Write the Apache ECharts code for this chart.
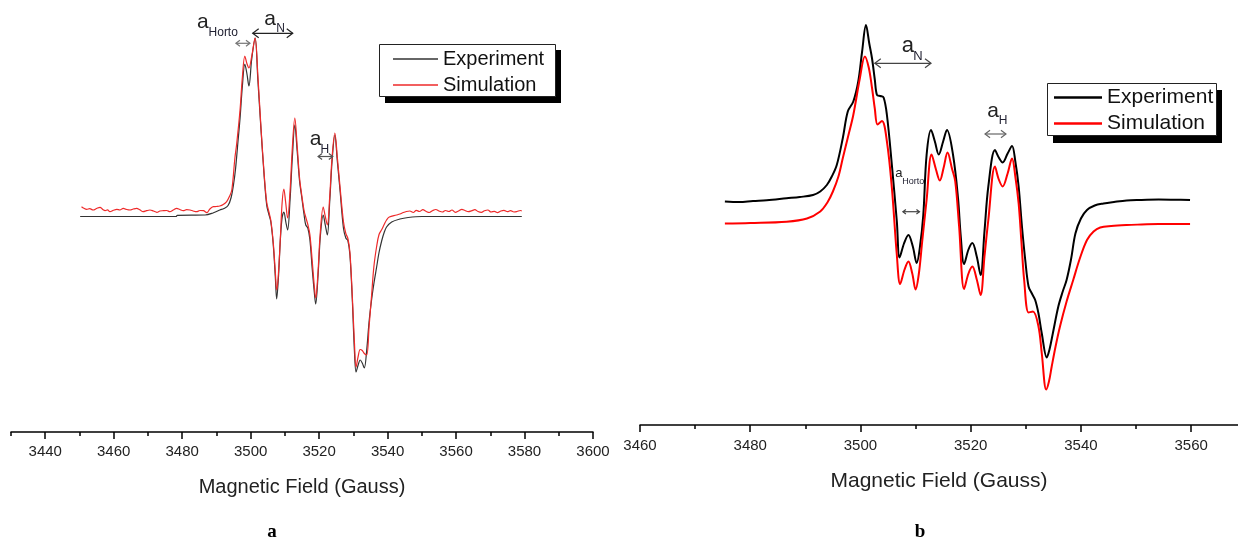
<!DOCTYPE html>
<html>
<head>
<meta charset="utf-8">
<script src="https://cdn.jsdelivr.net/npm/echarts@6/dist/echarts.min.js"></script>
<style>
html, body { margin: 0; padding: 0; background: #fff; }
#main { width: 1238px; height: 541px; }
</style>
</head>
<body>
<div id="main"></div>
<script>
// ---- panel a : experiment (black) ----
var fieldA_exp = [3450.2, 3478.2, 3478.6, 3486.7, 3489.0, 3491.0, 3492.2, 3493.4, 3494.3, 3495.0, 3495.6, 3496.3, 3496.9, 3497.6, 3498.3, 3498.9, 3499.5, 3500.3, 3501.3, 3502.1, 3503.0, 3504.0, 3504.7, 3505.3, 3505.9, 3506.6, 3507.2, 3507.6, 3508.1, 3508.7, 3509.2, 3509.7, 3510.3, 3510.8, 3511.5, 3512.2, 3512.9, 3513.6, 3514.3, 3514.9, 3515.6, 3516.1, 3516.7, 3517.3, 3518.0, 3518.6, 3519.0, 3519.7, 3520.4, 3521.2, 3521.8, 3522.4, 3523.1, 3523.8, 3524.6, 3525.3, 3526.1, 3527.1, 3527.8, 3528.4, 3529.0, 3529.7, 3530.3, 3530.8, 3531.4, 3532.0, 3532.6, 3533.2, 3533.9, 3534.6, 3535.3, 3536.0, 3536.8, 3537.5, 3538.3, 3539.0, 3539.7, 3541.2, 3543.6, 3546.0, 3550.0, 3579.2];
var intA_exp = [0, 0, 1.2, 1.5, 3.5, 6.5, 8, 11, 19, 32, 48, 75, 98, 131, 152.5, 143, 130.5, 157, 178.5, 137, 88, 38, 11, 2.5, -5.5, -28, -60, -82.5, -62, -22, -1, 4.5, -6, -13.5, 16, 60, 91.5, 65, 35, 20, 2, -8.5, -11.5, -23, -53, -76, -87.5, -58, -18, 1.5, -8.5, -18.5, 15, 56, 81.5, 56, 26.5, -11.5, -21.5, -24, -38.5, -83.5, -133.5, -155.5, -148.5, -143.5, -146.5, -151.5, -133.5, -105, -84, -67, -50.5, -36, -24, -16, -10.5, -5.5, -2.5, -1, 0, 0];

// ---- panel a : simulation (red, noisy baseline) ----
var fieldA_sim = [3450.6, 3451.3, 3452.1, 3453.0, 3454.0, 3455.0, 3456.0, 3456.8, 3457.5, 3458.2, 3458.9, 3459.9, 3460.9, 3461.8, 3462.8, 3463.8, 3464.8, 3465.7, 3466.7, 3467.6, 3468.6, 3469.6, 3470.6, 3471.6, 3472.6, 3473.5, 3474.5, 3475.5, 3476.4, 3477.4, 3478.4, 3479.3, 3480.3, 3481.3, 3482.3, 3483.2, 3484.2, 3485.2, 3486.2, 3487.2, 3488.1, 3489.1, 3490.0, 3491.0, 3492.0, 3493.0, 3493.8, 3494.5, 3495.4, 3495.9, 3496.9, 3497.6, 3498.3, 3498.9, 3499.5, 3500.3, 3501.3, 3502.1, 3503.0, 3504.0, 3504.7, 3505.3, 3505.9, 3506.6, 3507.2, 3507.6, 3508.1, 3508.7, 3509.2, 3509.7, 3510.2, 3510.8, 3511.5, 3512.2, 3512.9, 3513.6, 3514.3, 3514.9, 3515.6, 3516.2, 3516.7, 3517.3, 3518.0, 3518.6, 3519.0, 3519.6, 3520.3, 3521.2, 3521.8, 3522.4, 3523.1, 3523.8, 3524.6, 3525.3, 3526.1, 3527.1, 3527.8, 3528.4, 3529.0, 3529.7, 3530.3, 3530.8, 3531.4, 3532.0, 3532.6, 3533.2, 3533.9, 3534.6, 3535.3, 3536.0, 3536.8, 3537.5, 3538.3, 3539.0, 3539.7, 3540.5, 3542.6, 3543.6, 3544.6, 3545.5, 3546.5, 3547.5, 3548.4, 3549.3, 3550.3, 3551.2, 3552.2, 3553.1, 3554.1, 3555.0, 3556.0, 3556.9, 3557.9, 3558.8, 3559.8, 3560.7, 3561.7, 3562.6, 3563.6, 3564.5, 3565.5, 3566.4, 3567.4, 3568.3, 3569.3, 3570.2, 3571.2, 3572.1, 3573.1, 3574.0, 3575.0, 3575.9, 3576.9, 3577.8, 3578.8, 3579.2];
var intA_sim = [9.8, 8.2, 7.2, 7.8, 6.5, 8.0, 9.2, 7.0, 5.8, 6.6, 4.8, 6.2, 7.2, 6.5, 8.2, 7.0, 6.5, 7.5, 8.2, 6.8, 4.8, 5.8, 6.5, 5.5, 4.2, 5.5, 5.8, 6.0, 4.8, 6.5, 8.2, 7.0, 5.8, 6.8, 6.5, 5.5, 4.8, 6.0, 5.8, 3.8, 7.5, 9.8, 10.0, 10.5, 12.0, 14.8, 20, 26.5, 58.5, 72, 106.5, 140, 160.5, 153, 148.5, 160, 178.5, 141.5, 90, 40, 14, 5, -4, -26, -55, -73.5, -58, -20, 14, 27.5, 15, -1.5, 25, 70, 98.5, 70, 38, 22, 6, -2, -8, -18, -45, -70, -81.5, -60, -18, 9.5, 0, -8.5, 20, 60, 83.5, 60, 30, -5, -17, -22, -36, -80, -125, -150.5, -140, -133, -134, -137, -138.5, -110, -80, -50, -30, -18, -13, -8, -3.5, -0.5, 1.5, 2.5, 4, 5, 5.5, 4.0, 6.2, 5.0, 6.8, 5.2, 4.0, 5.8, 7.0, 5.5, 4.5, 6.0, 5.0, 6.5, 4.2, 5.5, 7.2, 6.0, 4.8, 5.6, 6.8, 5.0, 4.2, 5.8, 6.5, 4.5, 5.2, 3.8, 5.5, 6.2, 4.8, 5.8, 4.5, 5.0, 6.0, 5.5];

// ---- panel b : experiment (black) ----
var fieldB_exp = [3475.4, 3478.0, 3480.5, 3483.0, 3486.6, 3489.0, 3491.4, 3492.7, 3493.9, 3494.8, 3495.7, 3496.8, 3497.7, 3498.7, 3499.6, 3500.3, 3501.0, 3501.6, 3502.1, 3502.6, 3503.0, 3503.6, 3504.2, 3504.8, 3505.7, 3506.6, 3507.1, 3507.9, 3508.7, 3509.5, 3510.2, 3510.8, 3511.4, 3512.0, 3512.8, 3513.5, 3514.2, 3515.0, 3515.7, 3516.8, 3517.7, 3518.2, 3518.8, 3519.6, 3520.3, 3521.1, 3521.8, 3522.5, 3523.2, 3524.4, 3525.1, 3525.8, 3526.7, 3527.5, 3528.1, 3528.7, 3529.3, 3529.9, 3530.5, 3531.1, 3531.7, 3532.3, 3532.9, 3533.8, 3534.3, 3534.9, 3535.9, 3536.7, 3537.4, 3538.2, 3539.0, 3540.0, 3541.1, 3542.5, 3544.1, 3546.0, 3548.3, 3551.0, 3554.1, 3557.0, 3559.8];
var intB_exp = [0, -0.5, 0.5, 1.2, 3.2, 4.5, 6.5, 10, 16.5, 25, 36.5, 63.5, 90, 100, 120, 150, 176.5, 158, 143, 122, 106.5, 105.5, 104, 86.5, 36.5, -20, -56, -42, -33.5, -45, -61.5, -45, -13.5, 46.5, 71.5, 60, 47, 60, 71.5, 46.5, 3.5, -35, -62.5, -48, -41.5, -55, -73.5, -30, 15, 51.5, 44, 39, 48, 55.5, 40, 15, -25, -58.5, -85, -92, -98.5, -112, -132, -156, -148, -132, -105, -90, -78.5, -58, -32, -17, -8.5, -4, -2, -0.5, 1, 1.5, 2, 1.8, 1.5];

// ---- panel b : simulation (red) ----
var fieldB_sim = [3475.4, 3480.0, 3486.6, 3490.3, 3492.7, 3494.0, 3495.0, 3496.0, 3496.8, 3497.8, 3498.7, 3499.9, 3500.8, 3501.5, 3502.1, 3502.6, 3503.1, 3503.9, 3504.8, 3505.7, 3506.6, 3507.2, 3508.0, 3508.7, 3509.4, 3510.0, 3510.6, 3511.2, 3512.0, 3512.9, 3513.7, 3514.4, 3515.1, 3515.8, 3516.6, 3517.2, 3517.9, 3518.8, 3519.6, 3520.3, 3521.1, 3521.8, 3522.5, 3523.2, 3524.4, 3525.1, 3525.8, 3526.7, 3527.5, 3528.1, 3528.7, 3529.2, 3529.7, 3530.5, 3531.3, 3532.3, 3532.9, 3533.7, 3534.2, 3534.7, 3535.4, 3536.2, 3537.4, 3538.6, 3539.8, 3541.1, 3542.3, 3543.5, 3545.5, 3548.3, 3551.0, 3554.1, 3557.0, 3559.8];
var intB_sim = [-22, -21.5, -20.2, -17, -10, -1, 10, 25, 43.5, 66, 86.5, 123.5, 145, 134, 113.5, 93, 77, 80.5, 60, 13.5, -53.5, -82.5, -68, -60, -72, -88, -72, -40, 1.5, 47, 32, 21, 34, 49, 33, 20, -25, -87.5, -72, -65, -78, -93.5, -55, -18.5, 35, 22, 15, 28, 43, 25, -2, -40, -78.5, -111, -110, -125, -152, -188, -180, -165, -145, -125, -100, -78.5, -57, -38.5, -30, -26, -24.5, -23.5, -23, -22.5, -22.5, -22.5];

// tick values
var ticksA_major = [3440, 3460, 3480, 3500, 3520, 3540, 3560, 3580, 3600];
var ticksA_minor = [3430, 3450, 3470, 3490, 3510, 3530, 3550, 3570, 3590];
var ticksB_major = [3460, 3480, 3500, 3520, 3540, 3560];
var ticksB_minor = [3470, 3490, 3510, 3530, 3550];

function pairs(xs, ys) {
    return xs.map(function (x, i) { return [x, ys[i]]; });
}

var chart = echarts.init(document.getElementById('main'), null, { renderer: 'canvas' });

var font = 'Liberation Sans, Arial, sans-serif';

function majorAxis(grid, min, max, ticks, margin, gap) {
    return {
        gridIndex: grid, type: 'value', position: 'bottom', min: min, max: max,
        axisLine: { onZero: false, lineStyle: { color: '#000', width: 1.5 } },
        axisTick: { customValues: ticks, length: 7, lineStyle: { color: '#000', width: 1.5 } },
        axisLabel: {
            customValues: ticks, margin: margin, fontSize: 15, color: '#222', fontFamily: font,
            formatter: function (v) { return String(v); }
        },
        splitLine: { show: false },
        name: 'Magnetic Field (Gauss)', nameLocation: 'middle', nameGap: gap,
        nameTextStyle: { fontSize: grid === 0 ? 20 : 21, color: '#222', fontFamily: font }
    };
}
function minorAxis(grid, min, max, ticks) {
    return {
        gridIndex: grid, type: 'value', position: 'bottom', min: min, max: max,
        axisLine: { show: false, onZero: false },
        axisTick: { customValues: ticks, length: 4, lineStyle: { color: '#000', width: 1.5 } },
        axisLabel: { show: false },
        splitLine: { show: false }
    };
}

var option = {
    animation: false,
    textStyle: { fontFamily: font },
    grid: [
        { left: 11, right: 645, top: 0, bottom: 109 },
        { left: 640, right: 0, top: 0, bottom: 116 }
    ],
    xAxis: [
        majorAxis(0, 3430, 3600, ticksA_major, 12, 45),
        minorAxis(0, 3430, 3600, ticksA_minor),
        majorAxis(1, 3460, 3568.5, ticksB_major, 13, 46),
        minorAxis(1, 3460, 3568.5, ticksB_minor)
    ],
    yAxis: [
        { gridIndex: 0, type: 'value', min: -215.5, max: 216.5, show: false },
        { gridIndex: 1, type: 'value', min: -223.5, max: 201.5, show: false }
    ],
    legend: [
        {
            left: 393, top: 49, padding: 0, orient: 'vertical', itemWidth: 45, itemHeight: 1.5, itemGap: 6,
            icon: 'rect', selectedMode: false,
            textStyle: { fontSize: 20, color: '#111', fontFamily: font },
            data: [
                { name: 'Experiment', itemStyle: { color: '#333' } },
                { name: 'Simulation', itemStyle: { color: '#ee2a2a' } }
            ]
        },
        {
            left: 1054, top: 87, padding: 0, orient: 'vertical', itemWidth: 48, itemHeight: 2.5, itemGap: 5,
            icon: 'rect', selectedMode: false,
            textStyle: { fontSize: 21, color: '#111', fontFamily: font },
            data: [
                { name: 'Experiment', itemStyle: { color: '#000' } },
                { name: 'Simulation', itemStyle: { color: '#ff0000' } }
            ]
        }
    ],
    series: [
        {
            name: 'Experiment', type: 'line', xAxisIndex: 0, yAxisIndex: 0, showSymbol: false, smooth: 0.35,
            lineStyle: { color: '#333', width: 1.2 }, itemStyle: { color: '#333' },
            data: pairs(fieldA_exp, intA_exp)
        },
        {
            name: 'Simulation', type: 'line', xAxisIndex: 0, yAxisIndex: 0, showSymbol: false, smooth: 0.35,
            lineStyle: { color: '#ee2a2a', width: 1.2 }, itemStyle: { color: '#ee2a2a' },
            data: pairs(fieldA_sim, intA_sim)
        },
        {
            name: 'Experiment', type: 'line', xAxisIndex: 2, yAxisIndex: 1, showSymbol: false, smooth: 0.35,
            lineStyle: { color: '#000', width: 2 }, itemStyle: { color: '#000' },
            data: pairs(fieldB_exp, intB_exp)
        },
        {
            name: 'Simulation', type: 'line', xAxisIndex: 2, yAxisIndex: 1, showSymbol: false, smooth: 0.35,
            lineStyle: { color: '#ff0000', width: 2 }, itemStyle: { color: '#ff0000' },
            data: pairs(fieldB_sim, intB_sim)
        }
    ]
};
chart.setOption(option);

// annotations placed in data coordinates (field, intensity)
var annotations = [
    { grid: 0, a: [3484.3, 194.5], aSize: 21, sub: 'Horto', s: [3487.7, 183.5], sSize: 12, arrow: [3495.7, 3499.8, 173.2], head: 4, color: '#777' },
    { grid: 0, a: [3504.0, 197.5], aSize: 21, sub: 'N', s: [3507.5, 187.5], sSize: 12, arrow: [3500.6, 3512.3, 183.2], head: 6, color: '#222' },
    { grid: 0, a: [3517.3, 77.5], aSize: 21, sub: 'H', s: [3520.4, 66.5], sSize: 12, arrow: [3519.7, 3524.0, 60], head: 4, color: '#555' },
    { grid: 1, a: [3507.5, 156], aSize: 22, sub: 'N', s: [3509.6, 145.5], sSize: 13, arrow: [3502.6, 3512.8, 138.2], head: 6, color: '#444' },
    { grid: 1, a: [3506.3, 28.5], aSize: 13, sub: 'Horto', s: [3507.6, 20], sSize: 9, arrow: [3507.7, 3510.7, -10.2], head: 3, color: '#444' },
    { grid: 1, a: [3523.0, 90.5], aSize: 21, sub: 'H', s: [3525.1, 81], sSize: 12, arrow: [3522.6, 3526.4, 67.5], head: 5, color: '#666' }
];

var graphics = [
    // legend boxes with drop shadow
    { type: 'rect', z: 0, shape: { x: 385, y: 50, width: 176, height: 53 }, style: { fill: '#000' } },
    { type: 'rect', z: 0, shape: { x: 379.5, y: 44.5, width: 176, height: 52 }, style: { fill: '#fff', stroke: '#222', lineWidth: 1 } },
    { type: 'rect', z: 0, shape: { x: 1053, y: 90, width: 169, height: 53 }, style: { fill: '#000' } },
    { type: 'rect', z: 0, shape: { x: 1047.5, y: 83.5, width: 169, height: 52 }, style: { fill: '#fff', stroke: '#222', lineWidth: 1 } },
    // panel letters
    { type: 'text', z: 10, x: 272, y: 532, style: { text: 'a', font: 'bold 19px "Liberation Serif", serif', fill: '#000', align: 'center', verticalAlign: 'middle' } },
    { type: 'text', z: 10, x: 920, y: 532, style: { text: 'b', font: 'bold 19px "Liberation Serif", serif', fill: '#000', align: 'center', verticalAlign: 'middle' } }
];

annotations.forEach(function (an) {
    var pa = chart.convertToPixel({ gridIndex: an.grid }, an.a);
    var ps = chart.convertToPixel({ gridIndex: an.grid }, an.s);
    var p1 = chart.convertToPixel({ gridIndex: an.grid }, [an.arrow[0], an.arrow[2]]);
    var p2 = chart.convertToPixel({ gridIndex: an.grid }, [an.arrow[1], an.arrow[2]]);
    var h = an.head;
    graphics.push({ type: 'text', z: 10, x: pa[0], y: pa[1], style: { text: 'a', font: an.aSize + 'px ' + font, fill: '#222', verticalAlign: 'middle' } });
    graphics.push({ type: 'text', z: 10, x: ps[0], y: ps[1], style: { text: an.sub, font: an.sSize + 'px ' + font, fill: '#223', verticalAlign: 'middle' } });
    graphics.push({ type: 'line', z: 10, shape: { x1: p1[0], y1: p1[1], x2: p2[0], y2: p2[1] }, style: { stroke: an.color, lineWidth: 1.2 } });
    graphics.push({ type: 'polyline', z: 10, shape: { points: [[p1[0] + h, p1[1] - h * 0.75], [p1[0], p1[1]], [p1[0] + h, p1[1] + h * 0.75]] }, style: { stroke: an.color, lineWidth: 1.2, fill: null } });
    graphics.push({ type: 'polyline', z: 10, shape: { points: [[p2[0] - h, p2[1] - h * 0.75], [p2[0], p2[1]], [p2[0] - h, p2[1] + h * 0.75]] }, style: { stroke: an.color, lineWidth: 1.2, fill: null } });
});

chart.setOption({ graphic: graphics });
</script>
</body>
</html>
